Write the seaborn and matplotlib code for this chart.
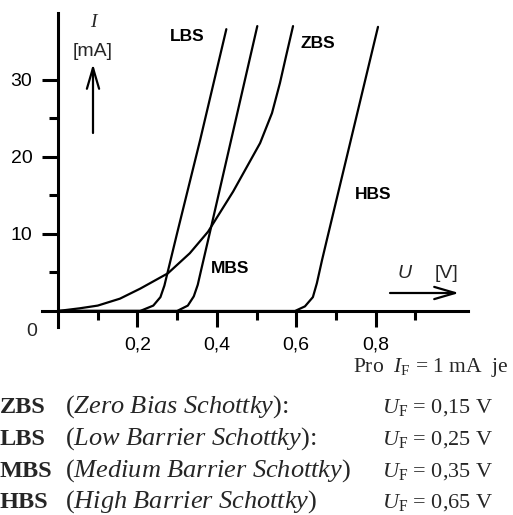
import matplotlib
matplotlib.use("Agg")
import matplotlib.pyplot as plt
import pandas as pd
import seaborn as sns

# ---- data ----
zbs_u = [0.0, 0.055, 0.10, 0.156, 0.207, 0.277, 0.332, 0.378, 0.441, 0.509, 0.539, 0.559, 0.574, 0.592]
zbs_i = [0.0, 0.35, 0.7, 1.6, 2.9, 4.9, 7.5, 10.3, 15.5, 21.8, 25.7, 29.6, 33.0, 37.0]

lbs_u = [0.0, 0.207, 0.24, 0.258, 0.268, 0.276, 0.30, 0.358, 0.424]
lbs_i = [0.0, 0.0, 0.7, 1.8, 3.3, 5.0, 10.1, 22.2, 36.6]

mbs_u = [0.0, 0.30, 0.327, 0.342, 0.352, 0.36, 0.383, 0.502]
mbs_i = [0.0, 0.0, 0.7, 1.9, 3.4, 5.2, 10.3, 37.0]

hbs_u = [0.0, 0.597, 0.622, 0.642, 0.652, 0.665, 0.677, 0.806]
hbs_i = [0.0, 0.0, 0.6, 1.8, 3.6, 6.6, 9.2, 36.9]

curve_names = ["ZBS", "LBS", "MBS", "HBS"]
curve_u = [zbs_u, lbs_u, mbs_u, hbs_u]
curve_i = [zbs_i, lbs_i, mbs_i, hbs_i]

x_major = [0.2, 0.4, 0.6, 0.8]
x_major_labels = ["0,2", "0,4", "0,6", "0,8"]
x_minor = [0.1, 0.3, 0.5, 0.7, 0.9]
y_major = [10, 20, 30]
y_major_labels = ["10", "20", "30"]
y_minor = [5, 15, 25]

full_names = ["Zero Bias Schottky", "Low Barrier Schottky",
              "Medium Barrier Schottky", "High Barrier Schottky"]
name_suffix = ["):", "):", ")", ")"]
uf_values = ["0,15", "0,25", "0,35", "0,65"]

# ---- figure ----
sns.set_theme(style="white")
plt.rcParams['font.family'] = ['Liberation Sans', 'DejaVu Sans']
plt.rcParams['mathtext.fontset'] = 'custom'
plt.rcParams['mathtext.rm'] = 'Liberation Serif'
plt.rcParams['mathtext.it'] = 'Liberation Serif:italic'
plt.rcParams['mathtext.bf'] = 'Liberation Serif:bold'

W, H = 513, 515
fig = plt.figure(figsize=(W / 100, H / 100), dpi=100)
fig.patch.set_facecolor("white")

ax = fig.add_axes([42 / W, 1 - 327 / H, (468 - 42) / W, (327 - 13) / H])
ax.set_facecolor("white")

rows = []
for name, us, iis in zip(curve_names, curve_u, curve_i):
    for k, (u, i) in enumerate(zip(us, iis)):
        rows.append({"U": u, "I": i, "type": name, "k": k})
df = pd.DataFrame(rows)
sns.lineplot(data=df, x="U", y="I", units="type", estimator=None, sort=False,
             color="black", lw=1.6, ax=ax, legend=False)

ax.set_xlim(-0.0403, 1.0327)
ax.set_ylim(-2.08, 38.7)

for s in ["top", "right"]:
    ax.spines[s].set_visible(False)
ax.spines["left"].set_position(("data", 0))
ax.spines["bottom"].set_position(("data", 0))
for s in ["left", "bottom"]:
    ax.spines[s].set_linewidth(2.2)
    ax.spines[s].set_color("black")

ax.set_xticks(x_major)
ax.set_xticklabels(x_major_labels)
ax.set_xticks(x_minor, minor=True)
ax.set_yticks(y_major)
ax.set_yticklabels(y_major_labels)
ax.set_yticks(y_minor, minor=True)
ax.tick_params(which="both", bottom=True, left=True, top=False, right=False)
ax.tick_params(which="major", direction="out", length=11.5, width=2.2, color="black",
               labelsize=14, labelcolor="black", pad=7)
ax.tick_params(which="minor", direction="out", length=6.5, width=2.2, color="black")
ax.set_xlabel("")
ax.set_ylabel("")

# curve labels
lab_pos = {"LBS": (0.325, 35.1), "ZBS": (0.655, 34.2), "MBS": (0.433, 4.87), "HBS": (0.793, 14.5)}
for name in curve_names:
    x, y = lab_pos[name]
    ax.text(x, y, name, ha="center", va="baseline", fontsize=12.5, fontweight="bold",
            color="black")

# origin label
fig.text(32 / W, 1 - 331 / H, "0", ha="center", va="center", fontsize=14)

# axis quantity labels and arrows
fig.text(93 / W, 1 - 27 / H, "I", ha="center", va="baseline", fontsize=14,
         family="Liberation Serif", style="italic")
fig.text(93 / W, 1 - 56 / H, "[mA]", ha="center", va="baseline", fontsize=14)
fig.text(405 / W, 1 - 278 / H, "U", ha="center", va="baseline", fontsize=14, style="italic")
fig.text(446 / W, 1 - 278 / H, "[V]", ha="center", va="baseline", fontsize=14)

arrow = dict(arrowstyle="->,head_length=0.75,head_width=0.22", lw=1.6, color="black",
             mutation_scale=20, shrinkA=0, shrinkB=0)
fig.add_artist(matplotlib.patches.FancyArrowPatch(
    (93 / W, 1 - 133 / H), (93 / W, 1 - 64 / H), transform=fig.transFigure, **arrow))
fig.add_artist(matplotlib.patches.FancyArrowPatch(
    (390 / W, 1 - 293 / H), (459 / W, 1 - 293 / H), transform=fig.transFigure, **arrow))

# bottom text block
serif = "Liberation Serif"
fig.text(353 / W, 1 - 372 / H, r"Pro  $I_\mathrm{F}$ = 1 mA  je", ha="left", va="baseline",
         fontsize=15.5, family=serif)
baselines = [413, 445, 477, 508]
for name, full, suf, uf, yb in zip(curve_names, full_names, name_suffix, uf_values, baselines):
    fig.text(0 / W, 1 - yb / H, name, ha="left", va="baseline", fontsize=17.5,
             family=serif, fontweight="bold")
    it = full.replace(" ", r"\ ")
    fig.text(65 / W, 1 - yb / H, "($\\mathit{" + it + "}$" + suf, ha="left", va="baseline",
             fontsize=19, family=serif)
    fig.text(382 / W, 1 - yb / H, r"$U_\mathrm{F}$ = " + uf + " V", ha="left", va="baseline",
             fontsize=16, family=serif)

fig.savefig("out.png", dpi=100, facecolor="white")
